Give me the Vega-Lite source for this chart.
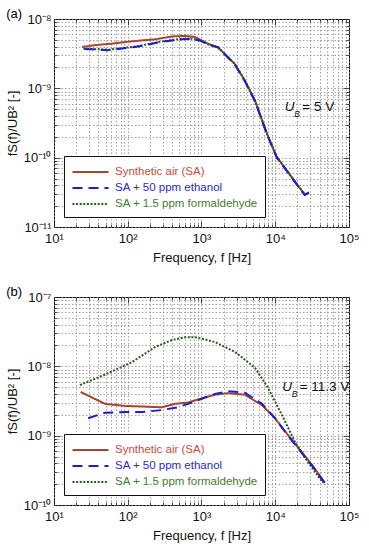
{
  "$schema": "https://vega.github.io/schema/vega-lite/v6.json",
  "padding": {"left": 5, "top": 7, "right": 5, "bottom": 4},
  "spacing": 20,
  "config": {
    "font": "Liberation Sans",
    "view": {"stroke": "black", "strokeWidth": 1},
    "axis": {
      "domain": false,
      "tickColor": "#222",
      "tickWidth": 0.8,
      "gridColor": "#8a8a8a",
      "gridDash": [1.5, 2],
      "gridWidth": 0.8,
      "labelFontSize": 13,
      "labelColor": "#111",
      "titleFontSize": 13,
      "titleFontWeight": "normal",
      "titleColor": "#111"
    },
    "legend": {
      "title": null,
      "orient": "bottom-left",
      "offset": 10,
      "padding": 7,
      "strokeColor": "#111",
      "fillColor": "white",
      "symbolType": "M-1,0H3.8",
      "symbolSize": 225,
      "symbolStrokeWidth": 2.2,
      "labelFontSize": 11.5,
      "rowPadding": 1,
      "labelOffset": 26,
      "labelLimit": 300
    },
    "title": {"fontSize": 13, "fontWeight": "normal", "anchor": "start", "frame": "bounds"}
  },
  "datasets": {
    "a": [
      {"series": "Synthetic air (SA)", "f": 24, "v": 3.95e-9},
      {"series": "Synthetic air (SA)", "f": 36, "v": 4.2e-9},
      {"series": "Synthetic air (SA)", "f": 60, "v": 4.4e-9},
      {"series": "Synthetic air (SA)", "f": 91, "v": 4.65e-9},
      {"series": "Synthetic air (SA)", "f": 150, "v": 4.9e-9},
      {"series": "Synthetic air (SA)", "f": 235, "v": 5.1e-9},
      {"series": "Synthetic air (SA)", "f": 400, "v": 5.6e-9},
      {"series": "Synthetic air (SA)", "f": 600, "v": 5.7e-9},
      {"series": "Synthetic air (SA)", "f": 815, "v": 5.5e-9},
      {"series": "Synthetic air (SA)", "f": 1230, "v": 4.4e-9},
      {"series": "Synthetic air (SA)", "f": 1670, "v": 3.9e-9},
      {"series": "Synthetic air (SA)", "f": 2830, "v": 2.24e-9},
      {"series": "Synthetic air (SA)", "f": 3870, "v": 1.29e-9},
      {"series": "Synthetic air (SA)", "f": 5330, "v": 6.6e-10},
      {"series": "Synthetic air (SA)", "f": 7740, "v": 2.2e-10},
      {"series": "Synthetic air (SA)", "f": 10500, "v": 1.02e-10},
      {"series": "Synthetic air (SA)", "f": 14400, "v": 6.5e-11},
      {"series": "Synthetic air (SA)", "f": 20500, "v": 3.9e-11},
      {"series": "Synthetic air (SA)", "f": 25100, "v": 2.95e-11},
      {"series": "Synthetic air (SA)", "f": 28600, "v": 3.15e-11},
      {"series": "SA + 1.5 ppm formaldehyde", "f": 25, "v": 3.75e-9},
      {"series": "SA + 1.5 ppm formaldehyde", "f": 54, "v": 3.6e-9},
      {"series": "SA + 1.5 ppm formaldehyde", "f": 137, "v": 4.05e-9},
      {"series": "SA + 1.5 ppm formaldehyde", "f": 288, "v": 4.75e-9},
      {"series": "SA + 1.5 ppm formaldehyde", "f": 550, "v": 5.2e-9},
      {"series": "SA + 1.5 ppm formaldehyde", "f": 740, "v": 5.2e-9},
      {"series": "SA + 1.5 ppm formaldehyde", "f": 1000, "v": 4.85e-9},
      {"series": "SA + 1.5 ppm formaldehyde", "f": 1230, "v": 4.3e-9},
      {"series": "SA + 1.5 ppm formaldehyde", "f": 1670, "v": 3.95e-9},
      {"series": "SA + 1.5 ppm formaldehyde", "f": 2830, "v": 2.25e-9},
      {"series": "SA + 1.5 ppm formaldehyde", "f": 3870, "v": 1.3e-9},
      {"series": "SA + 1.5 ppm formaldehyde", "f": 5330, "v": 6.6e-10},
      {"series": "SA + 1.5 ppm formaldehyde", "f": 7740, "v": 2.2e-10},
      {"series": "SA + 1.5 ppm formaldehyde", "f": 10500, "v": 1.02e-10},
      {"series": "SA + 1.5 ppm formaldehyde", "f": 14400, "v": 6.5e-11},
      {"series": "SA + 1.5 ppm formaldehyde", "f": 20500, "v": 3.9e-11},
      {"series": "SA + 1.5 ppm formaldehyde", "f": 25100, "v": 2.95e-11},
      {"series": "SA + 1.5 ppm formaldehyde", "f": 28600, "v": 3.15e-11},
      {"series": "SA + 50 ppm ethanol", "f": 26, "v": 3.7e-9},
      {"series": "SA + 50 ppm ethanol", "f": 54, "v": 3.55e-9},
      {"series": "SA + 50 ppm ethanol", "f": 137, "v": 4.0e-9},
      {"series": "SA + 50 ppm ethanol", "f": 288, "v": 4.7e-9},
      {"series": "SA + 50 ppm ethanol", "f": 550, "v": 5.1e-9},
      {"series": "SA + 50 ppm ethanol", "f": 740, "v": 5.15e-9},
      {"series": "SA + 50 ppm ethanol", "f": 1000, "v": 4.8e-9},
      {"series": "SA + 50 ppm ethanol", "f": 1230, "v": 4.25e-9},
      {"series": "SA + 50 ppm ethanol", "f": 1670, "v": 3.9e-9},
      {"series": "SA + 50 ppm ethanol", "f": 2830, "v": 2.2e-9},
      {"series": "SA + 50 ppm ethanol", "f": 3870, "v": 1.27e-9},
      {"series": "SA + 50 ppm ethanol", "f": 5330, "v": 6.5e-10},
      {"series": "SA + 50 ppm ethanol", "f": 7740, "v": 2.15e-10},
      {"series": "SA + 50 ppm ethanol", "f": 10500, "v": 1.0e-10},
      {"series": "SA + 50 ppm ethanol", "f": 14400, "v": 6.4e-11},
      {"series": "SA + 50 ppm ethanol", "f": 20500, "v": 3.85e-11},
      {"series": "SA + 50 ppm ethanol", "f": 25100, "v": 2.9e-11},
      {"series": "SA + 50 ppm ethanol", "f": 28600, "v": 3.1e-11}
    ],
    "b": [
      {"series": "Synthetic air (SA)", "f": 23, "v": 4.27e-9},
      {"series": "Synthetic air (SA)", "f": 49, "v": 2.88e-9},
      {"series": "Synthetic air (SA)", "f": 91, "v": 2.69e-9},
      {"series": "Synthetic air (SA)", "f": 288, "v": 2.57e-9},
      {"series": "Synthetic air (SA)", "f": 434, "v": 2.88e-9},
      {"series": "Synthetic air (SA)", "f": 656, "v": 3.0e-9},
      {"series": "Synthetic air (SA)", "f": 1020, "v": 3.47e-9},
      {"series": "Synthetic air (SA)", "f": 1520, "v": 3.9e-9},
      {"series": "Synthetic air (SA)", "f": 2280, "v": 4.1e-9},
      {"series": "Synthetic air (SA)", "f": 3870, "v": 3.9e-9},
      {"series": "Synthetic air (SA)", "f": 6620, "v": 2.75e-9},
      {"series": "Synthetic air (SA)", "f": 9940, "v": 1.78e-9},
      {"series": "Synthetic air (SA)", "f": 14900, "v": 1.02e-9},
      {"series": "Synthetic air (SA)", "f": 23000, "v": 5.75e-10},
      {"series": "Synthetic air (SA)", "f": 31500, "v": 3.8e-10},
      {"series": "Synthetic air (SA)", "f": 47000, "v": 2.1e-10},
      {"series": "SA + 1.5 ppm formaldehyde", "f": 22.5, "v": 5.37e-9},
      {"series": "SA + 1.5 ppm formaldehyde", "f": 54, "v": 7.94e-9},
      {"series": "SA + 1.5 ppm formaldehyde", "f": 114, "v": 1.15e-8},
      {"series": "SA + 1.5 ppm formaldehyde", "f": 235, "v": 1.9e-8},
      {"series": "SA + 1.5 ppm formaldehyde", "f": 398, "v": 2.4e-8},
      {"series": "SA + 1.5 ppm formaldehyde", "f": 600, "v": 2.63e-8},
      {"series": "SA + 1.5 ppm formaldehyde", "f": 815, "v": 2.63e-8},
      {"series": "SA + 1.5 ppm formaldehyde", "f": 1110, "v": 2.45e-8},
      {"series": "SA + 1.5 ppm formaldehyde", "f": 1520, "v": 2.24e-8},
      {"series": "SA + 1.5 ppm formaldehyde", "f": 2830, "v": 1.62e-8},
      {"series": "SA + 1.5 ppm formaldehyde", "f": 5330, "v": 9.5e-9},
      {"series": "SA + 1.5 ppm formaldehyde", "f": 7960, "v": 4.9e-9},
      {"series": "SA + 1.5 ppm formaldehyde", "f": 12300, "v": 2.0e-9},
      {"series": "SA + 1.5 ppm formaldehyde", "f": 18500, "v": 8.1e-10},
      {"series": "SA + 1.5 ppm formaldehyde", "f": 27600, "v": 4.2e-10},
      {"series": "SA + 1.5 ppm formaldehyde", "f": 44300, "v": 2.1e-10},
      {"series": "SA + 50 ppm ethanol", "f": 29, "v": 1.78e-9},
      {"series": "SA + 50 ppm ethanol", "f": 49, "v": 2.14e-9},
      {"series": "SA + 50 ppm ethanol", "f": 91, "v": 2.19e-9},
      {"series": "SA + 50 ppm ethanol", "f": 155, "v": 2.19e-9},
      {"series": "SA + 50 ppm ethanol", "f": 288, "v": 2.34e-9},
      {"series": "SA + 50 ppm ethanol", "f": 478, "v": 2.57e-9},
      {"series": "SA + 50 ppm ethanol", "f": 740, "v": 3.0e-9},
      {"series": "SA + 50 ppm ethanol", "f": 1050, "v": 3.47e-9},
      {"series": "SA + 50 ppm ethanol", "f": 1520, "v": 3.98e-9},
      {"series": "SA + 50 ppm ethanol", "f": 2280, "v": 4.37e-9},
      {"series": "SA + 50 ppm ethanol", "f": 3870, "v": 4.17e-9},
      {"series": "SA + 50 ppm ethanol", "f": 6620, "v": 2.88e-9},
      {"series": "SA + 50 ppm ethanol", "f": 9940, "v": 1.78e-9},
      {"series": "SA + 50 ppm ethanol", "f": 14900, "v": 1.0e-9},
      {"series": "SA + 50 ppm ethanol", "f": 23000, "v": 5.6e-10},
      {"series": "SA + 50 ppm ethanol", "f": 31500, "v": 3.7e-10},
      {"series": "SA + 50 ppm ethanol", "f": 47000, "v": 2.05e-10}
    ]
  },
  "vconcat": [
    {
      "title": {"text": "(a)", "dy": 8, "offset": 0},
      "width": 295,
      "height": 208,
      "layer": [
        {
          "data": {"name": "a"},
          "mark": {"type": "line", "strokeWidth": 2, "clip": true},
          "encoding": {
            "x": {"field": "f", "type": "quantitative",
              "scale": {"type": "log", "domain": [10, 100000], "nice": false},
              "axis": {"orient": "bottom", "title": "Frequency, f [Hz]",
                "values": [10,20,30,40,50,60,70,80,90,100,200,300,400,500,600,700,800,900,1000,2000,3000,4000,5000,6000,7000,8000,9000,10000,20000,30000,40000,50000,60000,70000,80000,90000,100000],
                "labelExpr": "datum.value == 10 ? '10¹' : datum.value == 100 ? '10²' : datum.value == 1000 ? '10³' : datum.value == 10000 ? '10⁴' : datum.value == 100000 ? '10⁵' : ''",
                "tickSize": {"condition": {"test": "abs(log(datum.value)/LN10 - round(log(datum.value)/LN10)) < 0.001", "value": -6}, "value": -3},
                "labelPadding": 11, "titlePadding": 3, "labelFlush": false, "labelOverlap": false}},
            "y": {"field": "v", "type": "quantitative",
              "scale": {"type": "log", "domain": [1e-11, 1e-8], "nice": false},
              "axis": {"orient": "left", "title": "fS(f)/UB² [-]",
                "values": [1e-11,2e-11,3e-11,4e-11,5e-11,6e-11,7e-11,8e-11,9e-11,1e-10,2e-10,3e-10,4e-10,5e-10,6e-10,7e-10,8e-10,9e-10,1e-9,2e-9,3e-9,4e-9,5e-9,6e-9,7e-9,8e-9,9e-9,1e-8],
                "labelExpr": "abs(log(datum.value)/LN10 - round(log(datum.value)/LN10)) < 0.001 ? (round(log(datum.value)/LN10) == -8 ? '10⁻⁸' : round(log(datum.value)/LN10) == -9 ? '10⁻⁹' : round(log(datum.value)/LN10) == -10 ? '10⁻¹⁰' : '10⁻¹¹') : ''",
                "tickSize": {"condition": {"test": "abs(log(datum.value)/LN10 - round(log(datum.value)/LN10)) < 0.001", "value": -6}, "value": -3},
                "labelPadding": 9, "titlePadding": 4, "labelFlush": false, "labelOverlap": false}},
            "color": {"field": "series", "type": "nominal",
              "scale": {"domain": ["Synthetic air (SA)", "SA + 50 ppm ethanol", "SA + 1.5 ppm formaldehyde"], "range": ["#a5452c", "#1c1cd0", "#2a5a22"]},
              "legend": {"labelColor": {"expr": "datum.label == 'Synthetic air (SA)' ? '#cc4a3c' : datum.label == 'SA + 50 ppm ethanol' ? '#2a2ac8' : '#3f7d30'"}}},
            "strokeDash": {"field": "series", "type": "nominal",
              "scale": {"domain": ["Synthetic air (SA)", "SA + 50 ppm ethanol", "SA + 1.5 ppm formaldehyde"], "range": [[1, 0], [10, 6], [2, 1.6]]},
              "legend": {"labelColor": {"expr": "datum.label == 'Synthetic air (SA)' ? '#cc4a3c' : datum.label == 'SA + 50 ppm ethanol' ? '#2a2ac8' : '#3f7d30'"}}}
          }
        },
        {
          "data": {"name": "a"},
          "mark": {"type": "point", "opacity": 0},
          "encoding": {
            "x": {"field": "f", "type": "quantitative",
              "axis": {"orient": "top", "title": null, "labels": false, "grid": false,
                "values": [10,20,30,40,50,60,70,80,90,100,200,300,400,500,600,700,800,900,1000,2000,3000,4000,5000,6000,7000,8000,9000,10000,20000,30000,40000,50000,60000,70000,80000,90000,100000],
                "tickSize": {"condition": {"test": "abs(log(datum.value)/LN10 - round(log(datum.value)/LN10)) < 0.001", "value": -6}, "value": -3}}},
            "y": {"field": "v", "type": "quantitative",
              "axis": {"orient": "right", "title": null, "labels": false, "grid": false,
                "values": [1e-11,2e-11,3e-11,4e-11,5e-11,6e-11,7e-11,8e-11,9e-11,1e-10,2e-10,3e-10,4e-10,5e-10,6e-10,7e-10,8e-10,9e-10,1e-9,2e-9,3e-9,4e-9,5e-9,6e-9,7e-9,8e-9,9e-9,1e-8],
                "tickSize": {"condition": {"test": "abs(log(datum.value)/LN10 - round(log(datum.value)/LN10)) < 0.001", "value": -6}, "value": -3}}}
          }
        },
        {
          "data": {"values": [{"f": 13500, "v": 5.4e-10, "t": "U"}]},
          "mark": {"type": "text", "fontStyle": "italic", "fontSize": 13.5, "align": "left", "baseline": "middle", "color": "#111"},
          "encoding": {"x": {"field": "f", "type": "quantitative", "axis": null}, "y": {"field": "v", "type": "quantitative", "axis": null}, "text": {"field": "t"}}
        },
        {
          "data": {"values": [{"f": 13500, "v": 5.4e-10, "t": "B"}]},
          "mark": {"type": "text", "fontStyle": "italic", "fontSize": 8.5, "align": "left", "baseline": "middle", "dx": 9.5, "dy": 7, "color": "#111"},
          "encoding": {"x": {"field": "f", "type": "quantitative", "axis": null}, "y": {"field": "v", "type": "quantitative", "axis": null}, "text": {"field": "t"}}
        },
        {
          "data": {"values": [{"f": 13500, "v": 5.4e-10, "t": "= 5 V"}]},
          "mark": {"type": "text", "fontSize": 13.5, "align": "left", "baseline": "middle", "dx": 17.5, "color": "#111"},
          "encoding": {"x": {"field": "f", "type": "quantitative", "axis": null}, "y": {"field": "v", "type": "quantitative", "axis": null}, "text": {"field": "t"}}
        }
      ],
      "resolve": {"axis": {"x": "independent", "y": "independent"}}
    },
    {
      "title": {"text": "(b)", "dy": 8, "offset": 0},
      "width": 295,
      "height": 208,
      "layer": [
        {
          "data": {"name": "b"},
          "mark": {"type": "line", "strokeWidth": 2, "clip": true},
          "encoding": {
            "x": {"field": "f", "type": "quantitative",
              "scale": {"type": "log", "domain": [10, 100000], "nice": false},
              "axis": {"orient": "bottom", "title": "Frequency, f [Hz]",
                "values": [10,20,30,40,50,60,70,80,90,100,200,300,400,500,600,700,800,900,1000,2000,3000,4000,5000,6000,7000,8000,9000,10000,20000,30000,40000,50000,60000,70000,80000,90000,100000],
                "labelExpr": "datum.value == 10 ? '10¹' : datum.value == 100 ? '10²' : datum.value == 1000 ? '10³' : datum.value == 10000 ? '10⁴' : datum.value == 100000 ? '10⁵' : ''",
                "tickSize": {"condition": {"test": "abs(log(datum.value)/LN10 - round(log(datum.value)/LN10)) < 0.001", "value": -6}, "value": -3},
                "labelPadding": 11, "titlePadding": 3, "labelFlush": false, "labelOverlap": false}},
            "y": {"field": "v", "type": "quantitative",
              "scale": {"type": "log", "domain": [1e-10, 1e-7], "nice": false},
              "axis": {"orient": "left", "title": "fS(f)/UB² [-]",
                "values": [1e-10,2e-10,3e-10,4e-10,5e-10,6e-10,7e-10,8e-10,9e-10,1e-9,2e-9,3e-9,4e-9,5e-9,6e-9,7e-9,8e-9,9e-9,1e-8,2e-8,3e-8,4e-8,5e-8,6e-8,7e-8,8e-8,9e-8,1e-7],
                "labelExpr": "abs(log(datum.value)/LN10 - round(log(datum.value)/LN10)) < 0.001 ? (round(log(datum.value)/LN10) == -7 ? '10⁻⁷' : round(log(datum.value)/LN10) == -8 ? '10⁻⁸' : round(log(datum.value)/LN10) == -9 ? '10⁻⁹' : '10⁻¹⁰') : ''",
                "tickSize": {"condition": {"test": "abs(log(datum.value)/LN10 - round(log(datum.value)/LN10)) < 0.001", "value": -6}, "value": -3},
                "labelPadding": 9, "titlePadding": 4, "labelFlush": false, "labelOverlap": false}},
            "color": {"field": "series", "type": "nominal",
              "scale": {"domain": ["Synthetic air (SA)", "SA + 50 ppm ethanol", "SA + 1.5 ppm formaldehyde"], "range": ["#a5452c", "#1c1cd0", "#2a5a22"]},
              "legend": {"labelColor": {"expr": "datum.label == 'Synthetic air (SA)' ? '#cc4a3c' : datum.label == 'SA + 50 ppm ethanol' ? '#2a2ac8' : '#3f7d30'"}}},
            "strokeDash": {"field": "series", "type": "nominal",
              "scale": {"domain": ["Synthetic air (SA)", "SA + 50 ppm ethanol", "SA + 1.5 ppm formaldehyde"], "range": [[1, 0], [10, 6], [2, 1.6]]},
              "legend": {"labelColor": {"expr": "datum.label == 'Synthetic air (SA)' ? '#cc4a3c' : datum.label == 'SA + 50 ppm ethanol' ? '#2a2ac8' : '#3f7d30'"}}}
          }
        },
        {
          "data": {"name": "b"},
          "mark": {"type": "point", "opacity": 0},
          "encoding": {
            "x": {"field": "f", "type": "quantitative",
              "axis": {"orient": "top", "title": null, "labels": false, "grid": false,
                "values": [10,20,30,40,50,60,70,80,90,100,200,300,400,500,600,700,800,900,1000,2000,3000,4000,5000,6000,7000,8000,9000,10000,20000,30000,40000,50000,60000,70000,80000,90000,100000],
                "tickSize": {"condition": {"test": "abs(log(datum.value)/LN10 - round(log(datum.value)/LN10)) < 0.001", "value": -6}, "value": -3}}},
            "y": {"field": "v", "type": "quantitative",
              "axis": {"orient": "right", "title": null, "labels": false, "grid": false,
                "values": [1e-10,2e-10,3e-10,4e-10,5e-10,6e-10,7e-10,8e-10,9e-10,1e-9,2e-9,3e-9,4e-9,5e-9,6e-9,7e-9,8e-9,9e-9,1e-8,2e-8,3e-8,4e-8,5e-8,6e-8,7e-8,8e-8,9e-8,1e-7],
                "tickSize": {"condition": {"test": "abs(log(datum.value)/LN10 - round(log(datum.value)/LN10)) < 0.001", "value": -6}, "value": -3}}}
          }
        },
        {
          "data": {"values": [{"f": 12400, "v": 5.0e-9, "t": "U"}]},
          "mark": {"type": "text", "fontStyle": "italic", "fontSize": 13.5, "align": "left", "baseline": "middle", "color": "#111"},
          "encoding": {"x": {"field": "f", "type": "quantitative", "axis": null}, "y": {"field": "v", "type": "quantitative", "axis": null}, "text": {"field": "t"}}
        },
        {
          "data": {"values": [{"f": 12400, "v": 5.0e-9, "t": "B"}]},
          "mark": {"type": "text", "fontStyle": "italic", "fontSize": 8.5, "align": "left", "baseline": "middle", "dx": 9.5, "dy": 7, "color": "#111"},
          "encoding": {"x": {"field": "f", "type": "quantitative", "axis": null}, "y": {"field": "v", "type": "quantitative", "axis": null}, "text": {"field": "t"}}
        },
        {
          "data": {"values": [{"f": 12400, "v": 5.0e-9, "t": "= 11.3 V"}]},
          "mark": {"type": "text", "fontSize": 13.5, "align": "left", "baseline": "middle", "dx": 17.5, "color": "#111"},
          "encoding": {"x": {"field": "f", "type": "quantitative", "axis": null}, "y": {"field": "v", "type": "quantitative", "axis": null}, "text": {"field": "t"}}
        }
      ],
      "resolve": {"axis": {"x": "independent", "y": "independent"}}
    }
  ],
  "resolve": {
    "scale": {"x": "independent", "y": "independent", "color": "independent", "strokeDash": "independent"},
    "legend": {"color": "independent", "strokeDash": "independent"}
  }
}
